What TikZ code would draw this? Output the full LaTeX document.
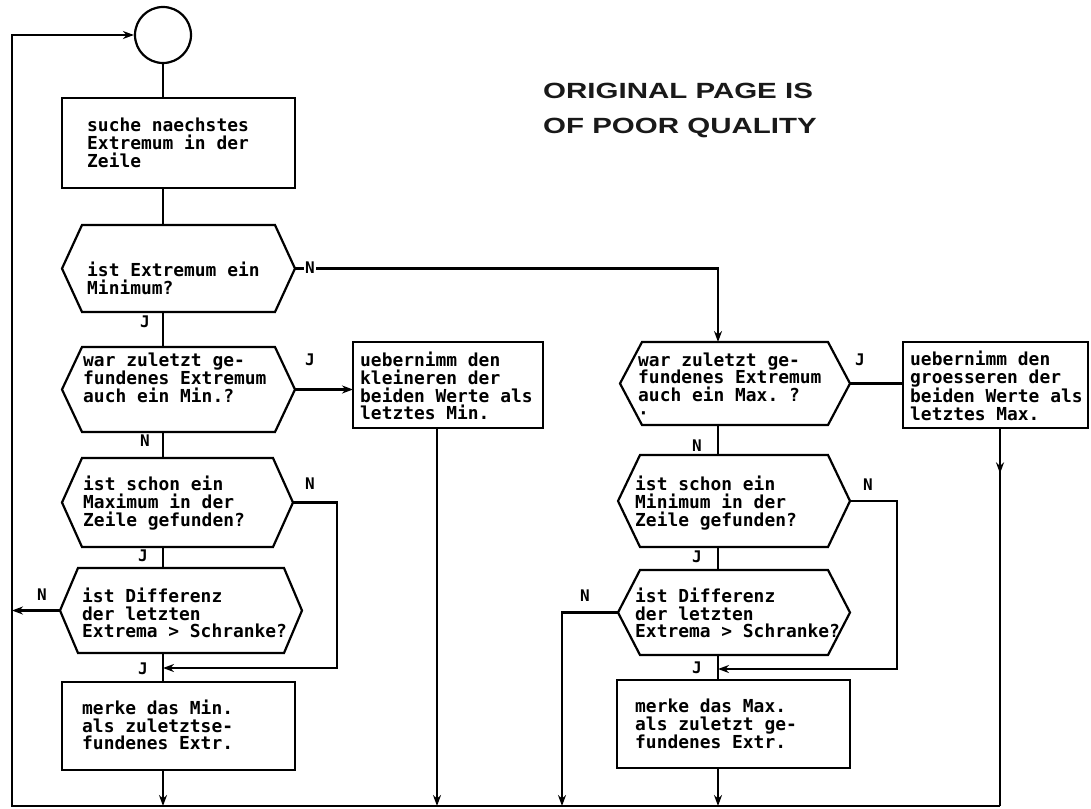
\documentclass[tikz,border=0pt]{standalone}
\usepackage{fontspec}
\setmonofont{DejaVu Sans Mono}
\newfontfamily\stampfont{Liberation Sans}
\usetikzlibrary{arrows.meta,decorations.markings,calc}
\tikzset{
  line/.style={line width=2.2pt, line join=miter},
  arr/.style={line, -{Stealth[length=11pt,width=8pt]}},
  midarrow/.style={postaction={decorate}, decoration={markings,
      mark=at position #1 with {\arrow{Stealth[length=11pt,width=8pt]}}}},
  rectbox/.style={draw, line width=2.2pt, inner sep=0pt, outer sep=0pt},
  hexbox/.style={inner sep=0pt, outer sep=0pt},
  txt/.style={font=\ttfamily\bfseries\fontsize{17.9}{17.7}\selectfont, align=left, anchor=west, inner sep=0pt},
  lbl/.style={font=\ttfamily\bfseries\fontsize{16}{16}\selectfont, inner sep=1pt},
  stamp/.style={font=\stampfont\bfseries\fontsize{22}{22}\selectfont, text=black!90, inner sep=0pt, anchor=base west}
}
\newcommand\hexdraw[2]{\draw[line] (#1.west) -- ([xshift=#2]#1.north west) -- ([xshift=-#2]#1.north east) -- (#1.east) -- ([xshift=-#2]#1.south east) -- ([xshift=#2]#1.south west) -- cycle;}
\begin{document}
\begin{tikzpicture}[x=1pt,y=-1pt]
\fill[white] (0,0) rectangle (1091,808);
\useasboundingbox (0,0) rectangle (1091,808);

% stamp
\node[stamp] (t1) at (543,98) {\scalebox{1.34}[1]{ORIGINAL PAGE IS}};
\node[stamp] (t2) at (543,133) {\scalebox{1.34}[1]{OF POOR QUALITY}};

% shapes
\node[draw, line width=2.2pt, circle, minimum size=56pt, inner sep=0pt] (start) at (163,35) {};
\node[rectbox, minimum width=233pt, minimum height=90pt] (b1) at (178.5,143) {};
\node[hexbox, minimum width=233pt, minimum height=87pt] (h1) at (178.5,268.5) {};
\node[hexbox, minimum width=233pt, minimum height=85pt] (h2) at (178.5,389.5) {};
\node[rectbox, minimum width=190pt, minimum height=86pt] (bmin) at (448,385) {};
\node[hexbox, minimum width=231pt, minimum height=89pt] (h3) at (177.5,502.5) {};
\node[hexbox, minimum width=242pt, minimum height=85pt] (h4) at (181,610.5) {};
\node[rectbox, minimum width=233pt, minimum height=88pt] (bm1) at (178.5,726) {};

\node[hexbox, minimum width=230pt, minimum height=83pt] (h5) at (735,383.5) {};
\node[rectbox, minimum width=185pt, minimum height=86pt] (bmax) at (995.5,385) {};
\node[hexbox, minimum width=232pt, minimum height=92pt] (h6) at (734,501) {};
\node[hexbox, minimum width=232pt, minimum height=85pt] (h7) at (734,612.5) {};
\node[rectbox, minimum width=233pt, minimum height=88pt] (bm2) at (733.5,724) {};

\hexdraw{h1}{20pt}
\hexdraw{h2}{20pt}
\hexdraw{h3}{20pt}
\hexdraw{h4}{18pt}
\hexdraw{h5}{22pt}
\hexdraw{h6}{22pt}
\hexdraw{h7}{22pt}

% texts
\node[txt] (b1t) at (87,143) {suche naechstes\\Extremum in der\\Zeile};
\node[txt] (h1t) at (87,278) {ist Extremum ein\\Minimum?};
\node[txt] (h2t) at (83,378) {war zuletzt ge-\\fundenes Extremum\\auch ein Min.?};
\node[txt] (bmint) at (360,386) {uebernimm den\\kleineren der\\beiden Werte als\\letztes Min.};
\node[txt] (h3t) at (83,503) {ist schon ein\\Maximum in der\\Zeile gefunden?};
\node[txt] (h4t) at (82,613) {ist Differenz\\der letzten\\Extrema > Schranke?};
\node[txt] (bm1t) at (82,725) {merke das Min.\\als zuletztse-\\fundenes Extr.};
\node[txt] (h5t) at (638,386) {war zuletzt ge-\\fundenes Extremum\\auch ein Max. ?\\·};
\node[txt] (bmaxt) at (910,386) {uebernimm den\\groesseren der\\beiden Werte als\\letztes Max.};
\node[txt] (h6t) at (635,503) {ist schon ein\\Minimum in der\\Zeile gefunden?};
\node[txt] (h7t) at (635,613) {ist Differenz\\der letzten\\Extrema > Schranke?};
\node[txt] (bm2t) at (635,724) {merke das Max.\\als zuletzt ge-\\fundenes Extr.};

% helper coordinates
\coordinate (rc) at (718,0);
\coordinate (lx) at (12,0);
\coordinate (bL) at (12,806);
\coordinate (bR) at (1000,806);
\coordinate (m1) at (437,806);
\coordinate (m2) at (562,806);
\coordinate (k1) at (337,668);
\coordinate (k2) at (897,669);

% left column connectors
\draw[line] (start.south) -- (start.south |- b1.north);
\draw[line] (b1.south -| start) -- (h1.north -| start);
\draw[line] (h1.south -| start) -- (h2.north -| start);
\draw[arr] (h1.east) -- (h1.east -| rc) -- (h5.north -| rc);
\draw[arr] (h2.east) -- (bmin.west |- h2.east);
\draw[arr] (bmin.south -| m1) -- (m1);
\draw[line] (h2.south -| start) -- (h3.north -| start);
\draw[arr] (h3.east) -| (k1) -- (k1 -| start);
\draw[line] (h3.south -| start) -- (h4.north -| start);
\draw[arr] (h4.west) -- (h4.west -| lx);
\draw[line] (h4.south -| start) -- (bm1.north -| start);
\draw[arr] (bm1.south -| start) -- (start |- bL);
\draw[arr] (bR) -- (bL) |- (start.west);

% right column connectors
\draw[line] (h5.south -| rc) -- (h6.north -| rc);
\draw[line] (h5.east) -- (bmax.west |- h5.east);
\draw[line, midarrow=0.12] (bmax.south -| bR) -- (bR);
\draw[arr] (h6.east) -| (k2) -- (k2 -| rc);
\draw[line] (h6.south -| rc) -- (h7.north -| rc);
\draw[arr] (h7.west) -| (m2);
\draw[line] (h7.south -| rc) -- (bm2.north -| rc);
\draw[arr] (bm2.south -| rc) -- (rc |- bR);

% branch labels
\node[lbl, fill=white] (n1) at (310,268) {N};
\node[lbl] (j1) at (145,322) {J};
\node[lbl] (j2) at (310,360) {J};
\node[lbl] (n2) at (145,441) {N};
\node[lbl] (n3) at (310,484) {N};
\node[lbl] (j3) at (143,556) {J};
\node[lbl] (n4) at (42,595) {N};
\node[lbl] (j4) at (143,669) {J};
\node[lbl] (n5) at (697,446) {N};
\node[lbl] (j5) at (860,360) {J};
\node[lbl] (n6) at (868,485) {N};
\node[lbl] (j6) at (697,557) {J};
\node[lbl] (n7) at (585,596) {N};
\node[lbl] (j7) at (697,668) {J};
\end{tikzpicture}
\end{document}
